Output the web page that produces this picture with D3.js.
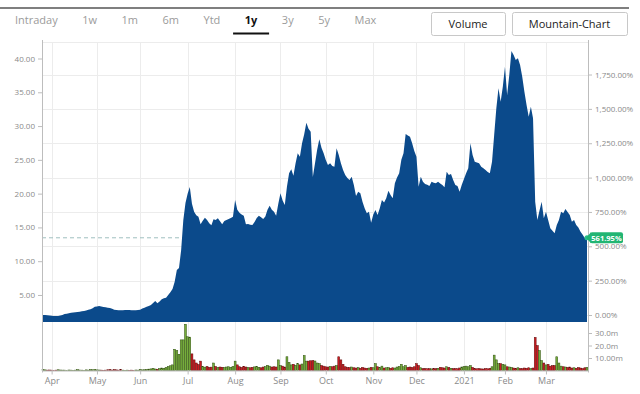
<!DOCTYPE html>
<html>
<head>
<meta charset="utf-8">
<script src="https://cdnjs.cloudflare.com/ajax/libs/d3/7.8.5/d3.min.js"></script>
<style>
    body { margin: 0; background: #fff; font-family: "Open Sans", "Noto Sans", sans-serif; }
    svg { display: block; }
    .tab { font-size: 11px; fill: #9b9b9b; }
    .tab.active { fill: #111; font-weight: 700; }
    .btn rect { fill: #fff; stroke: #c8c8c8; }
    .btn text { font-size: 11px; fill: #222; text-anchor: middle; }
    .axis text { fill: #8a8a8a; font-size: 8px; font-family: "Open Sans", "Noto Sans", sans-serif; }
    .axis line { stroke: #bdbdbd; }
    .axis .domain { display: none; }
    .x-axis text { font-size: 9px; }
    .grid line { stroke: #ececec; }
</style>
</head>
<body>
<script>
// toolbar
const ranges = ["Intraday", "1w", "1m", "6m", "Ytd", "1y", "3y", "5y", "Max"];
const activeRange = "1y";
const buttons = ["Volume", "Mountain-Chart"];

// trading calendar (weekdays minus exchange holidays)
const firstDay = "2020-03-26", lastDay = "2021-03-26";
const holidays = ["2020-04-10", "2020-05-25", "2020-07-03", "2020-09-07", "2020-11-26",
    "2020-12-25", "2021-01-01", "2021-01-18", "2021-02-15"];

// daily closes
const closes = [
    2.034, 2.05, 1.99, 1.95, 1.92, 1.90, 1.89, 1.90, 1.95, 2.05,
    2.18, 2.22, 2.30, 2.38, 2.40, 2.45, 2.48, 2.50, 2.58, 2.63,
    2.70, 2.80, 2.88, 3.05, 3.26, 3.30, 3.37, 3.30, 3.22, 3.18,
    3.12, 3.07, 2.95, 2.80, 2.76, 2.75, 2.73, 2.75, 2.77, 2.78,
    2.76, 2.74, 2.73, 2.75, 2.78, 2.82, 2.98, 3.10, 3.25, 3.37,
    3.52, 3.80, 4.11, 3.77, 4.05, 4.36, 4.50, 4.60, 5.00, 5.40,
    5.90, 6.97, 8.70, 9.00, 11.66, 16.10, 18.60, 20.00, 20.98, 18.50,
    17.33, 16.80, 16.59, 15.46, 16.00, 16.44, 16.10, 15.60, 15.31, 16.20,
    16.10, 16.35, 15.90, 15.46, 15.95, 16.10, 16.25, 16.40, 16.59, 19.06,
    17.60, 17.18, 16.90, 16.73, 15.46, 15.50, 15.40, 15.36, 15.80, 16.40,
    16.73, 16.50, 16.25, 16.60, 17.60, 18.21, 17.60, 17.33, 16.73, 18.50,
    20.05, 19.00, 18.32, 21.03, 23.00, 23.60, 22.65, 24.50, 25.97, 25.47,
    27.45, 28.80, 30.50, 29.60, 29.17, 22.46, 24.50, 26.50, 28.04, 26.80,
    25.97, 24.98, 24.24, 24.50, 24.09, 23.99, 26.71, 25.72, 24.50, 23.50,
    22.76, 22.30, 22.02, 22.51, 21.28, 19.65, 20.29, 20.05, 18.80, 17.83,
    17.09, 17.33, 15.70, 16.90, 17.58, 16.84, 17.83, 19.06, 18.70, 19.31,
    20.43, 19.80, 19.31, 21.53, 22.40, 23.01, 25.00, 25.97, 28.83, 28.60,
    28.43, 27.45, 26.30, 25.47, 21.03, 22.51, 21.77, 21.43, 21.30, 21.13,
    21.77, 21.60, 21.53, 21.77, 21.50, 21.28, 20.94, 23.25, 22.76, 22.91,
    22.00, 21.28, 21.13, 20.29, 21.30, 22.17, 23.00, 23.75, 27.45, 25.72,
    24.73, 24.60, 24.49, 23.99, 23.75, 23.50, 23.20, 23.01, 24.73, 28.68,
    32.63, 35.60, 33.61, 35.83, 38.79, 34.60, 37.56, 41.11, 40.52, 39.78,
    40.03, 39.04, 37.31, 35.09, 33.12, 31.39, 32.87, 31.15, 18.81, 16.10,
    17.50, 18.81, 16.35, 17.33, 16.10, 14.87, 14.50, 14.13, 15.36, 16.10,
    17.33, 17.09, 17.73, 17.30, 16.84, 15.85, 16.10, 15.36, 15.00, 14.37,
    13.90, 13.39, 13.464
];

// daily volume, millions
const volumes = [
    0.8, 0.5, 0.3, 0.4, 0.3, 0.2, 0.3, 0.6, 0.4, 0.3,
    0.3, 0.2, 0.4, 0.3, 0.2, 0.3, 0.7, 0.4, 0.3, 0.2,
    0.5, 0.3, 0.8, 0.6, 0.9, 0.5, 0.4, 0.3, 0.2, 0.3,
    0.6, 0.8, 0.4, 0.7, 0.5, 0.3, 0.7, 0.3, 0.2, 0.3,
    0.2, 0.3, 0.2, 0.4, 0.3, 0.8, 0.5, 0.6, 0.9, 1.1,
    1.3, 1.8, 1.2, 1.0, 1.5, 2.0, 1.8, 2.4, 3.2, 3.8,
    4.5, 17.0, 16.0, 13.0, 24.5, 24.5, 37.0, 27.0, 26.7, 13.3,
    8.5, 6.0, 4.8, 7.5, 3.2, 2.7, 3.2, 2.5, 2.7, 6.0,
    3.2, 2.5, 2.8, 2.6, 2.4, 2.8, 3.0, 2.6, 3.2, 7.5,
    4.5, 3.0, 2.5, 3.4, 2.8, 2.4, 2.2, 2.6, 2.9, 3.3,
    2.6, 2.2, 2.8, 3.1, 4.2, 3.5, 2.8, 3.0, 2.8, 8.5,
    4.0, 3.5, 2.8, 11.0, 6.5, 4.5, 5.0, 4.2, 5.5, 4.5,
    5.2, 12.0, 7.5, 7.5, 7.8, 8.0, 7.6, 6.0, 5.5, 4.0,
    3.5, 3.0, 2.8, 3.2, 3.0, 3.5, 4.0, 11.0, 8.5, 5.0,
    3.0, 2.5, 2.4, 2.8, 2.2, 2.0, 2.3, 1.8, 2.5, 2.0,
    1.8, 2.0, 2.5, 2.2, 5.5, 3.0, 2.4, 3.5, 2.0, 2.2,
    2.4, 1.8, 2.2, 2.0, 2.8, 3.2, 5.0, 3.0, 4.0, 2.5,
    2.8, 2.4, 3.0, 5.5, 4.0, 2.2, 1.5, 1.6, 1.4, 1.5,
    1.3, 1.6, 1.5, 1.8, 2.6, 2.2, 2.0, 3.0, 2.5, 1.8,
    1.5, 1.6, 1.4, 2.0, 2.8, 3.2, 3.5, 3.0, 4.0, 2.5,
    1.6, 1.4, 1.5, 1.3, 1.2, 1.6, 1.4, 1.8, 3.0, 12.3,
    8.5, 5.5, 5.5, 5.0, 4.5, 3.0, 2.8, 2.5, 2.0, 1.8,
    2.2, 1.6, 1.5, 2.0, 1.8, 2.2, 1.5, 2.0, 26.5, 20.0,
    16.0, 8.0, 6.0, 4.5, 5.0, 3.5, 4.0, 4.0, 11.0, 6.0,
    3.5, 3.0, 2.8, 2.5, 2.8, 2.0, 2.2, 1.8, 2.4, 2.0,
    1.6, 2.2, 2.5
];

// axis ticks
const priceTicks = [5, 10, 15, 20, 25, 30, 35, 40];
const pctTicks = [0, 250, 500, 750, 1000, 1250, 1500, 1750];
const volTicks = [10, 20, 30];
const volTickLabels = ["10.00m", "20.0m", "30.0m"];
const monthLabels = ["Apr", "May", "Jun", "Jul", "Aug", "Sep", "Oct", "Nov", "Dec", "2021", "Feb", "Mar"];

const drawChart = () => {
    let width = 640,
        height = 394,
        plot = {left: 42, right: 588, top: 42, bottom: 322},
        volPanel = {top: 325.5, bottom: 370.5};

    let parseDay = d3.timeParse("%Y-%m-%d"),
        formatDay = d3.timeFormat("%Y-%m-%d");

    let tradingDays = d3.timeDay
        .range(parseDay(firstDay), d3.timeDay.offset(parseDay(lastDay), 1))
        .filter(d => d.getDay() % 6 !== 0 && !holidays.includes(formatDay(d)));

    let n = Math.min(tradingDays.length, closes.length, volumes.length);
    let data = d3.range(n).map(i => ({
        i: i,
        date: tradingDays[i],
        close: closes[i],
        volume: volumes[i],
        up: i === 0 || closes[i] >= closes[i - 1]
    }));
    let monthStarts = data.filter((d, i) => i > 0 && d.date.getMonth() !== data[i - 1].date.getMonth());

    let base = data[0].close,
        last = data[n - 1].close;

    let svg = d3.select("body")
        .append("svg")
            .attr("width", width)
            .attr("height", height);

    // --- toolbar ---
    svg.append("line")
        .attr("x1", 0).attr("x2", 629)
        .attr("y1", 8).attr("y2", 8)
        .attr("stroke", "#555").attr("stroke-width", 1.5);

    let tabX = 15;
    ranges.forEach(r => {
        let t = svg.append("text")
            .attr("class", r === activeRange ? "tab active" : "tab")
            .attr("x", tabX)
            .attr("y", 24)
            .text(r);
        let w = t.node().getComputedTextLength();
        if (r === activeRange) {
            svg.append("line")
                .attr("x1", tabX + w / 2 - 18).attr("x2", tabX + w / 2 + 18)
                .attr("y1", 33.5).attr("y2", 33.5)
                .attr("stroke", "#111").attr("stroke-width", 2);
        }
        tabX += w + 24.5;
    });

    let btnBoxes = [{x: 431, w: 74}, {x: 512, w: 115}];
    buttons.forEach((b, i) => {
        let g = svg.append("g").classed("btn", true);
        g.append("rect")
            .attr("x", btnBoxes[i].x + 0.5).attr("y", 12.5)
            .attr("width", btnBoxes[i].w).attr("height", 23)
            .attr("rx", 2);
        g.append("text")
            .attr("x", btnBoxes[i].x + btnBoxes[i].w / 2)
            .attr("y", 28)
            .text(b);
    });

    // --- scales ---
    let xScale = d3.scaleLinear()
        .domain([0, n - 1])
        .range([plot.left + 1, plot.right - 1]);
    let yScale = d3.scaleLinear()
        .domain([1, 42])
        .range([plot.bottom, 45]);
    let pctScale = d3.scaleLinear()
        .domain(yScale.domain().map(v => (v / base - 1) * 100))
        .range(yScale.range());
    let volScale = d3.scaleLinear()
        .domain([0, 36])
        .range([volPanel.bottom, volPanel.top]);

    // --- grid ---
    let grid = svg.append("g").classed("grid", true);
    grid.selectAll(".h")
        .data(pctTicks)
        .enter()
        .append("line")
            .attr("x1", plot.left).attr("x2", plot.right)
            .attr("y1", d => Math.round(pctScale(d)) + 0.5)
            .attr("y2", d => Math.round(pctScale(d)) + 0.5);
    grid.selectAll(".v")
        .data(monthStarts)
        .enter()
        .append("line")
            .attr("x1", d => Math.round(xScale(d.i)) + 0.5)
            .attr("x2", d => Math.round(xScale(d.i)) + 0.5)
            .attr("y1", plot.top).attr("y2", volPanel.bottom);
    grid.append("line")
        .attr("x1", plot.left).attr("x2", plot.right)
        .attr("y1", plot.top + 0.5).attr("y2", plot.top + 0.5);

    // last-price reference line, sits under the mountain
    svg.append("line")
        .attr("x1", plot.left).attr("x2", plot.right)
        .attr("y1", yScale(last)).attr("y2", yScale(last))
        .attr("stroke", "#9fbfbf")
        .attr("stroke-dasharray", "4,3");

    // --- mountain ---
    let area = d3.area()
        .x(d => xScale(d.i))
        .y0(plot.bottom)
        .y1(d => yScale(d.close));
    svg.append("path")
        .datum(data)
        .attr("d", area)
        .attr("fill", "#0b4a8b");

    // --- volume ---
    svg.append("g")
        .selectAll(".bar")
        .data(data)
        .enter()
        .append("rect")
            .classed("bar", true)
            .attr("x", d => xScale(d.i) - 0.95)
            .attr("y", d => volScale(d.volume))
            .attr("width", 1.9)
            .attr("height", d => volScale(0) - volScale(d.volume))
            .attr("fill", d => d.up ? "#76ad3c" : "#cc1d22")
            .attr("stroke", d => d.up ? "#2e4d0e" : "#5c0b0b")
            .attr("stroke-width", 0.5);

    // --- axes ---
    svg.append("line")
        .attr("x1", plot.left + 0.5).attr("x2", plot.left + 0.5)
        .attr("y1", plot.top - 2).attr("y2", volPanel.bottom + 2)
        .attr("stroke", "#bdbdbd");
    svg.append("line")
        .attr("x1", plot.right + 0.5).attr("x2", plot.right + 0.5)
        .attr("y1", plot.top - 2).attr("y2", volPanel.bottom + 2)
        .attr("stroke", "#bdbdbd");
    svg.append("line")
        .attr("x1", plot.left).attr("x2", plot.right)
        .attr("y1", volPanel.bottom + 0.5).attr("y2", volPanel.bottom + 0.5)
        .attr("stroke", "#bdbdbd");

    svg.append("g")
        .classed("axis", true)
        .attr("transform", "translate(" + plot.left + ", 0)")
        .call(d3.axisLeft(yScale).tickValues(priceTicks).tickFormat(d3.format(".2f")).tickSize(4));

    svg.append("g")
        .classed("axis", true)
        .attr("transform", "translate(" + plot.right + ", 0)")
        .call(d3.axisRight(pctScale).tickValues(pctTicks)
            .tickFormat(d => d3.format(",.2f")(d) + "%").tickSize(4));

    svg.append("g")
        .classed("axis", true)
        .attr("transform", "translate(" + plot.right + ", 0)")
        .call(d3.axisRight(volScale).tickValues(volTicks)
            .tickFormat((d, i) => volTickLabels[i]).tickSize(4));

    svg.append("g")
        .classed("axis x-axis", true)
        .attr("transform", "translate(0, " + volPanel.bottom + ")")
        .call(d3.axisBottom(xScale).tickValues(monthStarts.map(d => d.i))
            .tickFormat((d, i) => monthLabels[i]).tickSize(4));

    // --- last value badge ---
    let yLast = yScale(last);
    let badge = svg.append("g");
    badge.append("circle")
        .attr("cx", xScale(n - 1)).attr("cy", yLast)
        .attr("r", 2.5)
        .attr("fill", "#2cc08a");
    badge.append("path")
        .attr("d", "M" + (plot.right - 2) + "," + yLast + "L" + (plot.right + 3) + "," + (yLast - 5.5) +
            "L" + (plot.right + 3) + "," + (yLast + 5.5) + "Z")
        .attr("fill", "#22b573");
    badge.append("rect")
        .attr("x", plot.right + 2).attr("y", yLast - 5.5)
        .attr("width", 33).attr("height", 11)
        .attr("rx", 2)
        .attr("fill", "#22b573");
    badge.append("text")
        .attr("x", plot.right + 18.5).attr("y", yLast + 3)
        .attr("text-anchor", "middle")
        .attr("fill", "#fff")
        .attr("font-size", "7.5px")
        .attr("font-weight", 700)
        .text(d3.format(".2f")((last / base - 1) * 100) + "%");
};

drawChart();
</script>
</body>
</html>
